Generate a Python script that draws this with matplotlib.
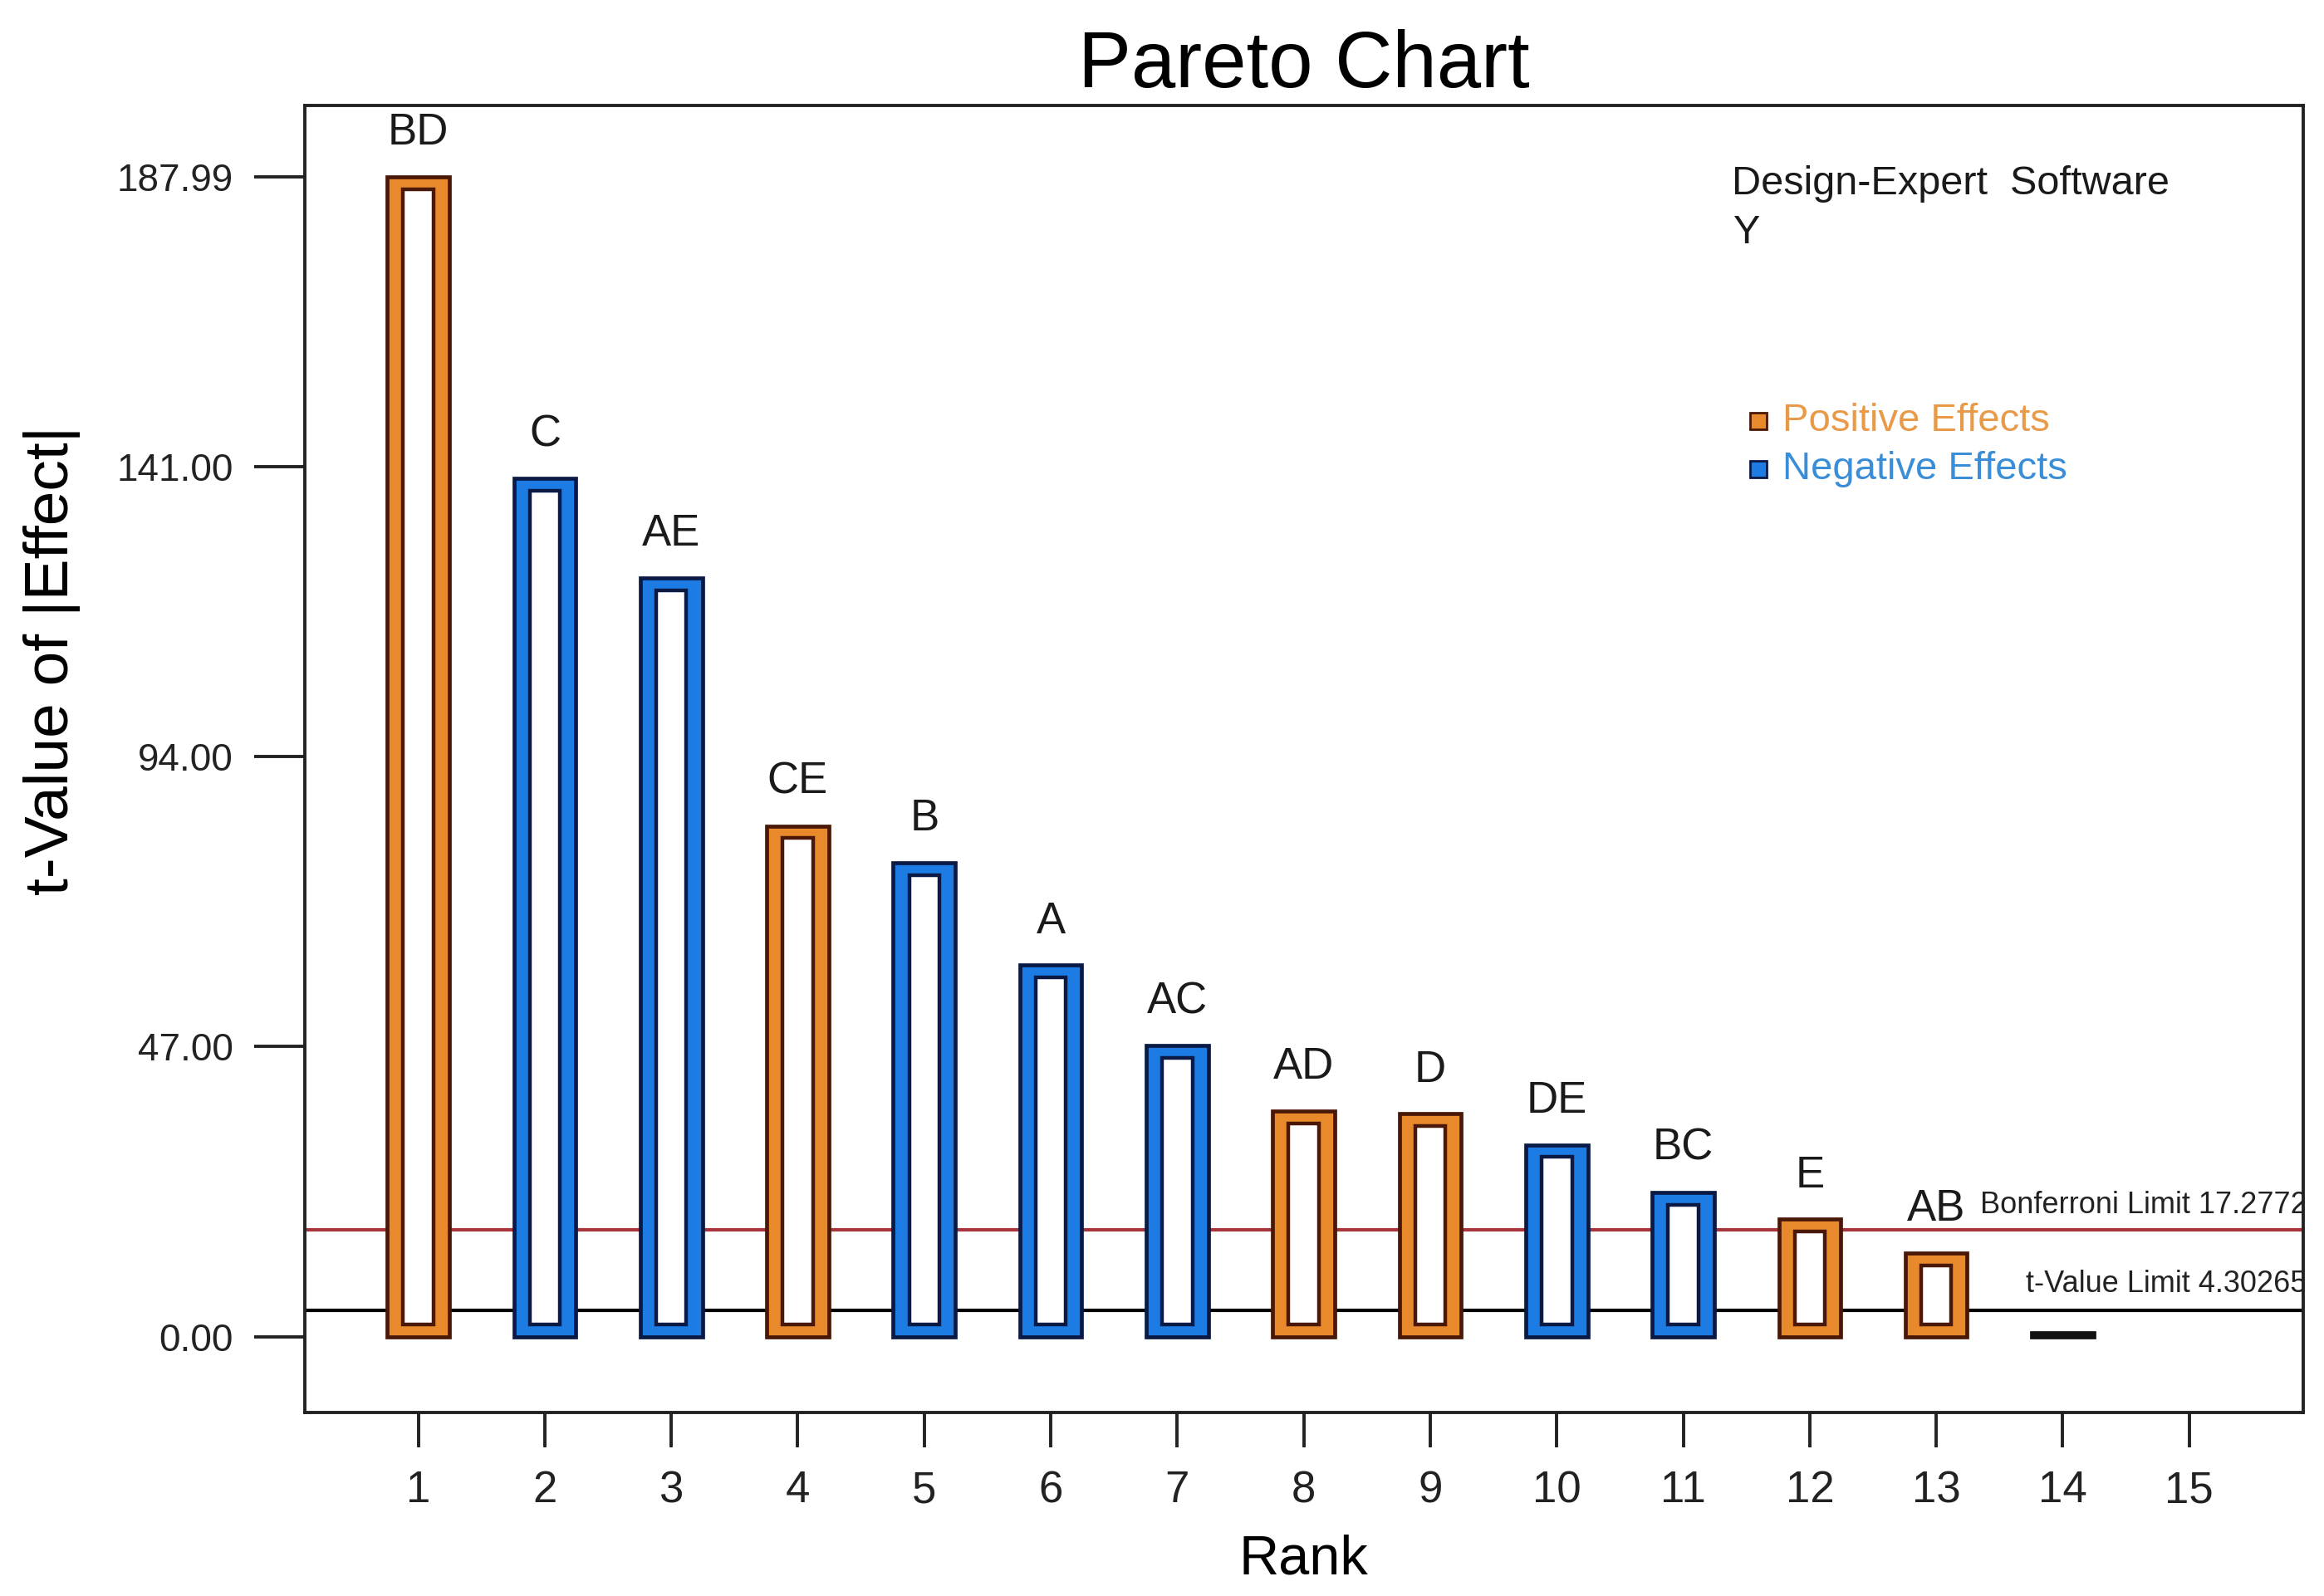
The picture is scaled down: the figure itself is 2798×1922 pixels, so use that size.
import matplotlib.pyplot as plt

# Pareto chart of standardized effects (Design-Expert style)
ranks = list(range(1, 15))
terms = ["BD", "C", "AE", "CE", "B", "A", "AC", "AD", "D", "DE", "BC", "E", "AB", ""]
t_values = [187.99, 139.1, 123.0, 82.8, 76.8, 60.2, 47.2, 36.6, 36.1, 31.1, 23.4, 19.0, 13.5, 0.6]
signs = ["+", "-", "-", "+", "-", "-", "-", "+", "+", "-", "-", "+", "+", "0"]
y_ticks = [0.00, 47.00, 94.00, 141.00, 187.99]
x_ticks = list(range(1, 16))
bonferroni = 17.2772
t_limit = 4.30265

FONT = ["Liberation Sans", "DejaVu Sans"]
plt.rcParams["font.family"] = FONT

ORANGE, ORANGE_EDGE = "#E8892B", "#4A1808"
BLUE, BLUE_EDGE = "#1C7CE3", "#0A1A45"
colors = {"+": (ORANGE, ORANGE_EDGE), "-": (BLUE, BLUE_EDGE), "0": ("#111111", "#111111")}

fig = plt.figure(figsize=(13.99, 9.61), dpi=200)
ax = fig.add_axes([0.131, 0.115, 0.860, 0.819])

# limit lines sit behind the bars
ax.axhline(bonferroni, color="#A8343C", lw=1.5, zorder=1)
ax.axhline(t_limit, color="black", lw=1.5, zorder=1)

inset = 2.0
for r, v, s, lab in zip(ranks, t_values, signs, terms):
    fc, ec = colors[s]
    ax.bar(r, v, width=0.49, color=fc, edgecolor=ec, linewidth=1.7, zorder=2)
    if v > 3 * inset:
        ax.bar(r, v - 2 * inset, bottom=inset, width=0.24, color="white",
               edgecolor=ec, linewidth=1.6, zorder=3)
    if lab:
        ax.annotate(lab, (r, v), xytext=(0, 14), textcoords="offset points",
                    ha="center", va="baseline", fontsize=19, color="#1a1a1a")

ax.set_xlim(0.1, 15.9)
ax.set_ylim(-12.3, 199.6)
ax.set_xticks(x_ticks)
ax.set_yticks(y_ticks)
ax.set_yticklabels([f"{t:.2f}" for t in y_ticks])
ax.tick_params(axis="y", length=22, width=1.4, pad=9, labelsize=16.5, colors="#222222")
ax.tick_params(axis="x", length=15, width=1.4, pad=10, labelsize=19, colors="#222222")
for sp in ax.spines.values():
    sp.set_linewidth(1.4)
    sp.set_color("#222222")

ax.set_title("Pareto Chart", fontsize=34.5, pad=8)
ax.set_xlabel("Rank", fontsize=24)
ax.xaxis.set_label_coords(0.5, -0.093)
ax.xaxis.label.set_va("top")
ax.set_ylabel("t-Value of |Effect|", fontsize=27)
ax.yaxis.set_label_coords(-0.112, 0.575)

# limit annotations
ax.text(15.93, bonferroni + 1.6, "Bonferroni Limit 17.2772", ha="right", va="bottom",
        fontsize=13, color="#222222", clip_on=True)
ax.text(13.71, t_limit + 1.8, "t-Value Limit 4.30265", ha="left", va="bottom",
        fontsize=13, color="#222222", clip_on=True)

# software note and legend
fig.text(0.745, 0.8845, "Design-Expert  Software", fontsize=17.5, va="center", color="#1a1a1a")
fig.text(0.746, 0.854, "Y", fontsize=17.5, va="center", color="#1a1a1a")
ax.plot([0.7565], [0.736], marker="s", ms=7, mfc=ORANGE, mec=ORANGE_EDGE, mew=1.0,
        transform=fig.transFigure, clip_on=False)
ax.plot([0.7565], [0.706], marker="s", ms=7, mfc=BLUE, mec=BLUE_EDGE, mew=1.0,
        transform=fig.transFigure, clip_on=False)
fig.text(0.767, 0.736, "Positive Effects", fontsize=17, va="center", color="#E89A48")
fig.text(0.767, 0.706, "Negative Effects", fontsize=17, va="center", color="#3A8ED8")

fig.savefig("out.png", dpi=200)
